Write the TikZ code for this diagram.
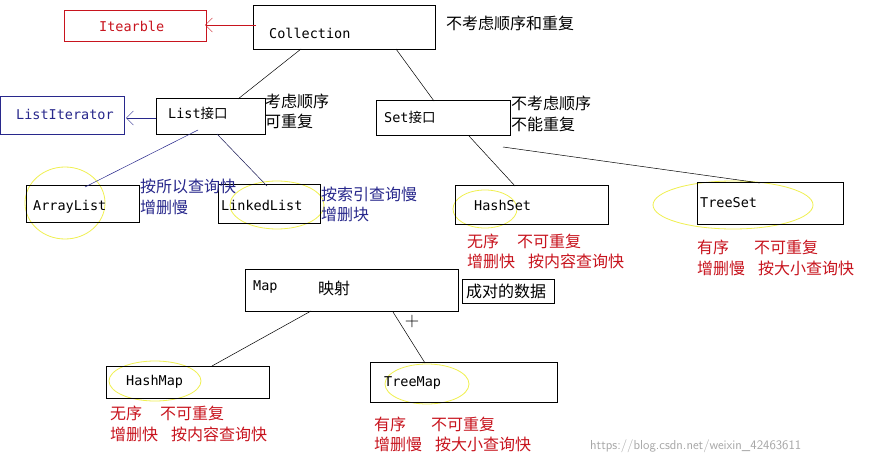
\documentclass[tikz,border=0pt]{standalone}
\usepackage{fontspec}
\setmonofont{DejaVu Sans Mono}
\newfontfamily\cjk{Noto Sans CJK SC}
\usetikzlibrary{arrows.meta}
\definecolor{rd}{RGB}{200,20,30}
\definecolor{bl}{RGB}{40,40,140}
\definecolor{yl}{RGB}{240,240,80}
\tikzset{x=1pt,y=-1pt,
 bx/.style={draw,line width=0.8pt},
 lbl/.style={font=\ttfamily\fontsize{13.5}{15}\selectfont,anchor=west,inner sep=0},
 cn/.style={font=\cjk\fontsize{16}{18}\selectfont,anchor=west,inner sep=0},
 el/.style={draw=yl,line width=0.8pt},
 ln/.style={line width=0.5pt},
 oarr/.style={-{Straight Barb[length=7pt,width=14pt]}}}
\begin{document}
\begin{tikzpicture}
\useasboundingbox[fill=white] (0,0) rectangle (877,465);
% ellipses
\draw[el] (65,203) ellipse [x radius=40, y radius=36];
\draw[el] (277,205) ellipse [x radius=47, y radius=24];
\draw[el] (485,209) ellipse [x radius=32, y radius=19];
\draw[el] (733,205) ellipse [x radius=80, y radius=24];
\draw[el] (155,381) ellipse [x radius=46, y radius=20];
\draw[el] (427,384) ellipse [x radius=42, y radius=20];
% boxes
\draw[bx,rd] (64,10) rectangle (206,41); \node[lbl,rd] (it) at (99,26) {Itearble};
\coordinate (itR) at (205,25);
\draw[bx] (253,5) rectangle (435,49); \node[lbl] (col) at (269,33) {Collection};
\draw[bx,bl] (0,96) rectangle (124,134); \node[lbl,bl] (li) at (16,114) {ListIterator};
\draw[bx] (156,98) rectangle (265,134); \node[lbl] (list) at (168,113) {List\cjk 接口};
\draw[bx] (376,100) rectangle (510,135); \node[lbl] (set) at (384,117) {Set\cjk 接口};
\draw[bx] (26,185) rectangle (139,222); \node[lbl] (al) at (33,207) {ArrayList};
\draw[bx] (218,184) rectangle (320,223); \node[lbl] (ll) at (221,205) {LinkedList};
\draw[bx] (455,185) rectangle (608,224); \node[lbl] (hs) at (474,205) {HashSet};
\draw[bx] (697,182) rectangle (843,224); \node[lbl] (ts) at (700,203) {TreeSet};
\draw[bx] (245,269) rectangle (458,311); \node[lbl] (map) at (253,287) {Map}; \node[cn] at (318,288) {映射};
\draw[bx] (462,279) rectangle (554,303); \node[cn] (pair) at (466,291) {成对的数据};
\draw[bx] (106,366) rectangle (269,398); \node[lbl] (hm) at (126,382) {HashMap};
\draw[bx] (370,362) rectangle (557,402); \node[lbl] (tm) at (384,383) {TreeMap};
% connectors
\coordinate (c1) at (256,25);
\draw[ln,rd,oarr] (c1) -- (itR);
\coordinate (c2) at (301,49); \coordinate (l1) at (238,99); \draw[ln] (c2) -- (l1);
\coordinate (c3) at (396,49); \coordinate (s1) at (434,101); \draw[ln] (c3) -- (s1);
\coordinate (l2) at (156,118); \coordinate (li1) at (126,118); \draw[ln,bl,oarr] (l2) -- (li1);
\coordinate (l3) at (198,130); \coordinate (a1) at (85,187); \draw[ln,bl] (l3) -- (a1);
\coordinate (l4) at (217,134); \coordinate (k1) at (267,186); \draw[ln,bl!60!black] (l4) -- (k1);
\coordinate (s2) at (469,136); \coordinate (h1) at (515,186); \draw[ln] (s2) -- (h1);
\coordinate (s3) at (503,147); \coordinate (t1) at (760,183); \draw[ln] (s3) -- (t1);
\coordinate (m1) at (311,311); \coordinate (hm1) at (212,366); \draw[ln] (m1) -- (hm1);
\coordinate (m2) at (393,312); \coordinate (tm1) at (425,363); \draw[ln] (m2) -- (tm1);
\node[font=\fontsize{20}{20}\selectfont,inner sep=0] at (412,322) {+};
% texts
\node[cn] at (446,23) {不考虑顺序和重复};
\node[cn] at (265,101) {考虑顺序}; \node[cn] at (265,121) {可重复};
\node[cn] at (511,103) {不考虑顺序}; \node[cn] at (511,124) {不能重复};
\node[cn,bl] at (140,186) {按所以查询快}; \node[cn,bl] at (140,207) {增删慢};
\node[cn,bl] at (321,194) {按索引查询慢}; \node[cn,bl] at (321,214) {增删块};
\node[cn,rd] at (467,241) {无序\hspace{18pt}不可重复}; \node[cn,rd] at (467,261) {增删快\hspace{13pt}按内容查询快};
\node[cn,rd] at (697,247) {有序\hspace{25pt}不可重复}; \node[cn,rd] at (697,268) {增删慢\hspace{13pt}按大小查询快};
\node[cn,rd] at (110,413) {无序\hspace{18pt}不可重复}; \node[cn,rd] at (110,434) {增删快\hspace{13pt}按内容查询快};
\node[cn,rd] at (374,424) {有序\hspace{25pt}不可重复}; \node[cn,rd] at (374,444) {增删慢\hspace{13pt}按大小查询快};
\node[anchor=west,inner sep=0,text=gray!70,font=\sffamily\fontsize{13}{14}\selectfont] at (590,446) {https://blog.csdn.net/weixin\_42463611};
\end{tikzpicture}
\end{document}
